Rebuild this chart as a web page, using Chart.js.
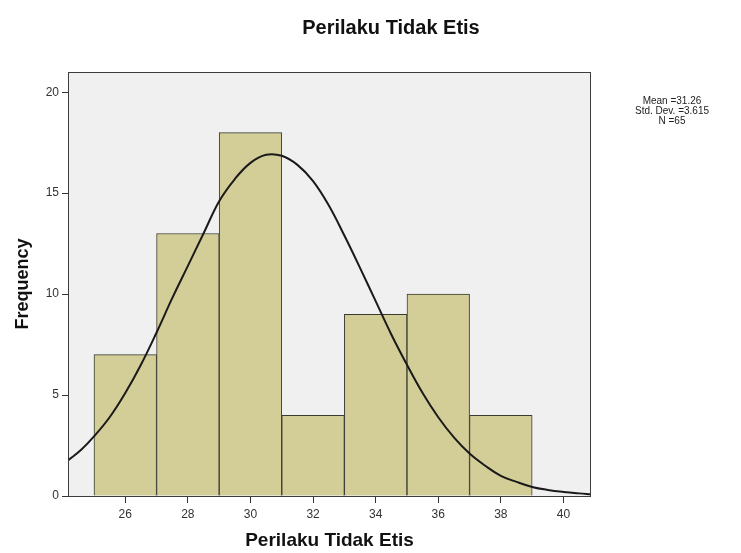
<!DOCTYPE html>
<html>
<head>
<meta charset="utf-8">
<script src="https://cdn.jsdelivr.net/npm/chart.js@4/dist/chart.umd.min.js"></script>
<style>
  body { margin: 0; background: #fff; }
</style>
</head>
<body>
<canvas id="histChart" width="741" height="553"></canvas>
<script>
const binCenters = [26, 28, 30, 32, 34, 36, 38];
const frequencies = [7, 13, 18, 4, 9, 10, 4];
// normal curve
const curveX = [24.17, 24.6, 25, 25.5, 26, 26.5, 27, 27.5, 28, 28.5, 29, 29.5, 30, 30.5, 31, 31.5, 32, 32.5, 33, 33.5, 34, 34.5, 35, 35.5, 36, 36.5, 37, 37.5, 38, 38.5, 39, 39.5, 40, 40.5, 40.88];
const curveY = [1.76, 2.3, 2.95, 3.9, 5.1, 6.5, 8.1, 9.8, 11.4, 13.0, 14.6, 15.7, 16.5, 16.9, 16.85, 16.4, 15.6, 14.4, 12.9, 11.3, 9.65, 8.0, 6.5, 5.1, 3.9, 2.9, 2.1, 1.5, 1.0, 0.7, 0.45, 0.3, 0.2, 0.13, 0.09];
const xTicks = [26, 28, 30, 32, 34, 36, 38, 40];
const yTicks = [0, 5, 10, 15, 20];
const statLines = ["Mean =31.26", "Std. Dev. =3.615", "N =65"];

const FONT = '"Liberation Sans", Arial, sans-serif';

const boxPlugin = {
    id: 'box',
    beforeDatasetsDraw(chart) {
        const { ctx, chartArea: a } = chart;
        ctx.save();
        ctx.fillStyle = '#f0f0f0';
        ctx.fillRect(a.left, a.top, a.right - a.left, a.bottom - a.top);
        ctx.restore();
    },
    afterDraw(chart) {
        const { ctx, chartArea: a } = chart;
        ctx.save();
        ctx.strokeStyle = '#3c3c3c';
        ctx.lineWidth = 1;
        ctx.strokeRect(a.left + 0.5, a.top + 0.5, a.right - a.left - 1, a.bottom - a.top);
        ctx.fillStyle = '#111';
        ctx.textAlign = 'center';
        ctx.textBaseline = 'middle';
        ctx.font = 'bold 20px ' + FONT;
        ctx.fillText('Perilaku Tidak Etis', 391, 28);
        ctx.font = '10px ' + FONT;
        ctx.fillStyle = '#222';
        statLines.forEach((t, i) => ctx.fillText(t, 672, 101 + i * 10));
        ctx.restore();
    }
};

new Chart(document.getElementById('histChart'), {
    type: 'bar',
    data: {
        datasets: [
            {
                type: 'line',
                data: curveX.map((x, i) => ({ x: x, y: curveY[i] })),
                borderColor: '#1a1a1a',
                borderWidth: 2,
                pointRadius: 0,
                tension: 0.4,
                fill: false,
                order: 0
            },
            {
                data: binCenters.map((x, i) => ({ x: x, y: frequencies[i] })),
                backgroundColor: '#d3ce97',
                borderColor: '#3a3a30',
                borderWidth: 1,
                barPercentage: 1,
                categoryPercentage: 1,
                order: 1
            }
        ]
    },
    options: {
        responsive: false,
        animation: false,
        layout: { padding: { top: 72, right: 150, left: 0, bottom: 0 } },
        scales: {
            x: {
                type: 'linear',
                min: 24.17,
                max: 40.88,
                offset: false,
                afterFit: s => { s.height = 57; },
                afterBuildTicks: s => { s.ticks = xTicks.map(v => ({ value: v })); },
                grid: { offset: false, drawOnChartArea: false, color: '#333', tickLength: 7 },
                border: { display: false },
                ticks: {
                    color: '#333',
                    padding: 4,
                    maxRotation: 0,
                    font: { family: FONT, size: 12 }
                },
                title: {
                    display: true,
                    text: 'Perilaku Tidak Etis',
                    color: '#111',
                    padding: { bottom: 1 },
                    font: { family: FONT, size: 19, weight: 'bold' }
                }
            },
            y: {
                min: 0,
                max: 21,
                afterFit: s => { s.width = 68; },
                afterBuildTicks: s => { s.ticks = yTicks.map(v => ({ value: v })); },
                grid: { drawOnChartArea: false, color: '#333', tickLength: 6 },
                border: { display: false },
                ticks: {
                    color: '#333',
                    padding: 3,
                    font: { family: FONT, size: 12 }
                },
                title: {
                    display: true,
                    text: 'Frequency',
                    color: '#111',
                    padding: { top: 12 },
                    font: { family: FONT, size: 18, weight: 'bold' }
                }
            }
        },
        plugins: {
            legend: { display: false },
            tooltip: { enabled: false }
        }
    },
    plugins: [boxPlugin]
});
</script>
</body>
</html>
